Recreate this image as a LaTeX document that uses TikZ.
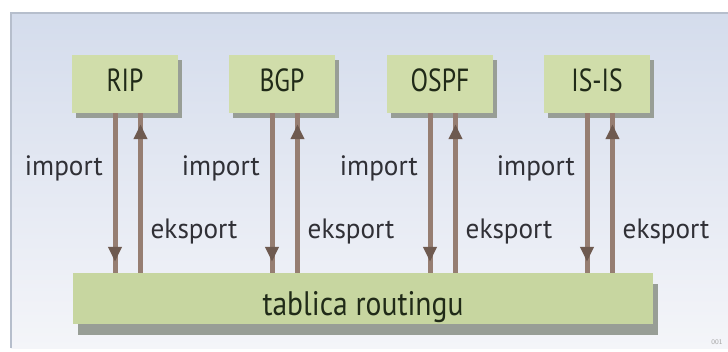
\documentclass[tikz,border=0pt]{standalone}
\usepackage{fontspec}
\usetikzlibrary{arrows.meta,shadows}

% condensed sans faces for the protocol boxes, labels and the table
\newfontfamily\boxfont[FakeStretch=0.80]{PT Sans}
\newfontfamily\lblfont[FakeStretch=0.97]{PT Sans}
\newfontfamily\tabfont[FakeStretch=0.87]{PT Sans}

\definecolor{boxgreen}{RGB}{208,221,170}
\definecolor{tabgreen}{RGB}{199,214,160}
\definecolor{shadowgrey}{RGB}{152,158,150}
\definecolor{arrowbrown}{RGB}{150,126,114}
\definecolor{tipbrown}{RGB}{110,90,80}
\definecolor{boxtext}{RGB}{32,42,24}
\definecolor{lbltext}{RGB}{48,48,54}
\definecolor{panelTop}{RGB}{212,220,236}
\definecolor{panelBottom}{RGB}{244,245,249}
\definecolor{panelEdge}{RGB}{182,190,204}

\begin{document}
\begin{tikzpicture}[x=1pt,y=-1pt,
  proto/.style={fill=boxgreen, minimum width=106pt, minimum height=58pt,
    inner sep=0pt, text=boxtext, text height=22pt, text depth=7pt,
    font=\boxfont\fontsize{32}{34}\selectfont,
    drop shadow={shadow xshift=4pt, shadow yshift=-5pt, fill=shadowgrey, opacity=1}},
  routetab/.style={fill=tabgreen, minimum width=580pt, minimum height=51pt,
    inner sep=0pt, text=boxtext, text height=33pt, text depth=0pt,
    font=\tabfont\fontsize{34}{36}\selectfont,
    drop shadow={shadow xshift=5pt, shadow yshift=-11pt, fill=shadowgrey, opacity=1}},
  flow/.style={draw=arrowbrown, line width=5pt,
    postaction={draw=arrowbrown, shorten >=11pt,
      -{Triangle[width=13pt,length=15pt,color=tipbrown]}}},
  lbl/.style={text=lbltext, inner sep=0pt,
    font=\lblfont\fontsize{28}{30}\selectfont}]

\useasboundingbox (0,0) rectangle (728,351);
\fill[white] (0,0) rectangle (728,351);

% background panel
\shade[top color=panelTop, bottom color=panelBottom] (11,13) rectangle (728,348);
\draw[panelEdge, line width=1.2pt] (11,348) -- (11,13) -- (728,13);

% protocol boxes
\node[proto] (rip)  at (125,84) {RIP};
\node[proto] (bgp)  at (282,84) {BGP};
\node[proto] (ospf) at (440,84) {OSPF};
\node[proto] (isis) at (597,84) {IS-IS};

% routing table
\node[routetab] (tab) at (363,298.5) {tablica routingu};

% reference heights of the label baselines
\coordinate (impline) at (0,175);
\coordinate (eksline) at (0,238);

% import / export arrows with their labels
\foreach \p in {rip,bgp,ospf,isis} {
  \coordinate (\p-d) at ([xshift=-10pt]\p.south);
  \coordinate (\p-u) at ([xshift=15.5pt]\p.south);
  \draw[flow] (\p-d) -- (\p-d |- tab.north);
  \draw[flow] (\p-u |- tab.north) -- (\p-u);
  \node[lbl, anchor=base east, xshift=-12pt] (\p-imp) at (\p-d |- impline) {import};
  \node[lbl, anchor=base west, xshift=10pt] (\p-eks) at (\p-u |- eksline) {eksport};
}

% figure number
\node[text=gray!70, font=\sffamily\fontsize{7}{7}\selectfont, inner sep=0pt] (fignum) at (717,342) {001};
\end{tikzpicture}
\end{document}
